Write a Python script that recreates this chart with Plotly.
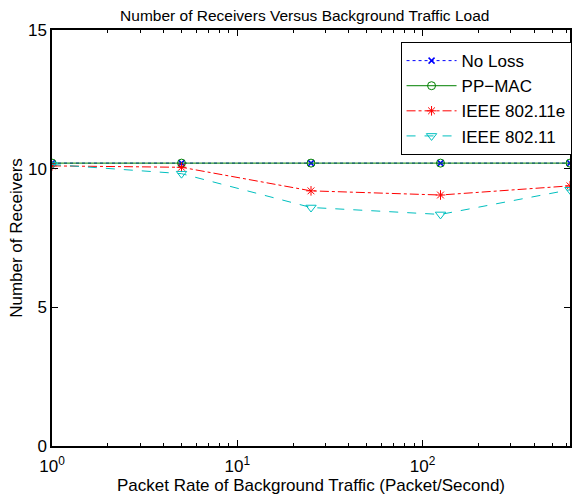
import plotly.graph_objects as go

x_rate = [1, 5, 25, 125, 625]
no_loss = [10.2, 10.2, 10.2, 10.2, 10.2]
pp_mac = [10.2, 10.2, 10.2, 10.2, 10.2]
ieee_11e = [10.1, 10.05, 9.2, 9.05, 9.38]
ieee_11 = [10.15, 9.82, 8.6, 8.35, 9.24]

x_tickvals = [1, 10, 100]
x_ticktext = ["10<sup>0</sup>", "10<sup>1</sup>", "10<sup>2</sup>"]
y_tickvals = [0, 5, 10, 15]

FONT = "Liberation Sans, Arial, sans-serif"

fig = go.Figure()
fig.add_trace(go.Scatter(x=x_rate, y=no_loss, name="No Loss", mode="lines+markers",
                         line=dict(color="#0000ff", width=1, dash="dot"),
                         marker=dict(symbol="x-thin-open", size=6, color="#0000ff",
                                     line=dict(color="#0000ff", width=1.5))))
fig.add_trace(go.Scatter(x=x_rate, y=pp_mac, name="PP\u2212MAC", mode="lines+markers",
                         line=dict(color="#008000", width=1),
                         marker=dict(symbol="circle-open", size=8, color="#008000",
                                     line=dict(color="#008000", width=1))))
fig.add_trace(go.Scatter(x=x_rate, y=ieee_11e, name="IEEE 802.11e", mode="lines+markers",
                         line=dict(color="#ff0000", width=1, dash="dashdot"),
                         marker=dict(symbol="asterisk-open", size=8, color="#ff0000",
                                     line=dict(color="#ff0000", width=1))))
fig.add_trace(go.Scatter(x=x_rate, y=ieee_11, name="IEEE 802.11", mode="lines+markers",
                         line=dict(color="#00bfbf", width=1, dash="dash"),
                         marker=dict(symbol="triangle-down-open", size=9, color="#00bfbf",
                                     line=dict(color="#00bfbf", width=1))))

minor_vals = [2, 3, 4, 5, 6, 7, 8, 9, 20, 30, 40, 50, 60, 70, 80, 90, 200, 300, 400, 500, 600]

fig.update_layout(
    width=575, height=499,
    margin=dict(l=52, r=3, t=30, b=53),
    paper_bgcolor="white", plot_bgcolor="white",
    font=dict(family=FONT, size=17, color="black"),
    title=dict(text="Number of Receivers Versus Background Traffic Load",
               x=0.53, xanchor="center", y=0.968, yanchor="middle",
               font=dict(size=15.5, family=FONT, color="black")),
    showlegend=True,
    legend=dict(x=1.003, xanchor="right", y=0.971, yanchor="top",
                bordercolor="black", borderwidth=1, bgcolor="white",
                font=dict(size=17, family=FONT), tracegroupgap=0, itemwidth=50),
)
fig.update_xaxes(type="log", range=[0, 2.7959], tickvals=x_tickvals, ticktext=x_ticktext,
                 showline=True, linecolor="black", linewidth=1.5, mirror="ticks",
                 ticks="inside", ticklen=6, tickcolor="black", showgrid=False, zeroline=False,
                 tickfont=dict(size=17), ticklabelstandoff=4,
                 minor=dict(tickvals=minor_vals, ticks="inside", ticklen=3, tickcolor="black", showgrid=False),
                 title=dict(text="Packet Rate of Background Traffic (Packet/Second)",
                            font=dict(size=17), standoff=4))
fig.update_yaxes(range=[0, 15], tickvals=y_tickvals,
                 showline=True, linecolor="black", linewidth=1.5, mirror="ticks",
                 ticks="inside", ticklen=6, tickcolor="black", showgrid=False, zeroline=False,
                 tickfont=dict(size=17),
                 title=dict(text="Number of Receivers", font=dict(size=17), standoff=1))

fig.write_html("out.html")
